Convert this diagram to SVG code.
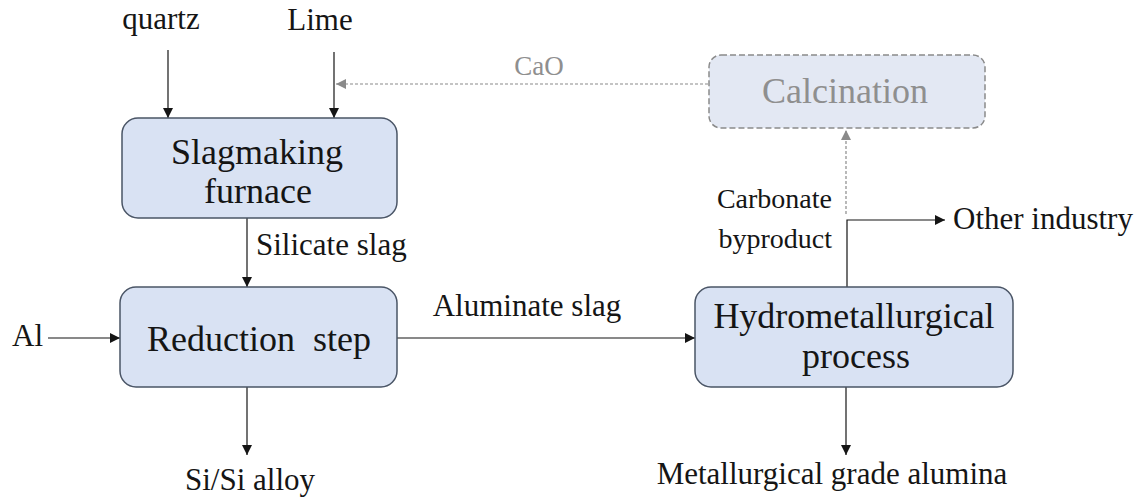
<svg xmlns="http://www.w3.org/2000/svg" width="1141" height="500" viewBox="0 0 1141 500">
<defs>
<style>
.box{fill:#d9e2f3;stroke:#4a5566;stroke-width:1.5}
.dbox{fill:#e3e8f3;stroke:#8a8a8a;stroke-width:1.5;stroke-dasharray:6 3}
.t{font-family:"Liberation Serif","Times New Roman",serif;fill:#151515}
.n{font-size:36px;text-anchor:middle}
.l{font-size:31px}
.g{fill:#8f8f8f}
.c{stroke:#151515;stroke-width:1.2;fill:none}
.d{stroke:#8a8a8a;stroke-width:1.2;fill:none;stroke-dasharray:3 2}
</style>
<marker id="a" viewBox="0 0 10 10" refX="10" refY="5" markerWidth="11" markerHeight="10" markerUnits="userSpaceOnUse" orient="auto"><path d="M0,0 L10,5 L0,10 z" fill="#151515"/></marker>
<marker id="ag" viewBox="0 0 10 10" refX="10" refY="5" markerWidth="11" markerHeight="10" markerUnits="userSpaceOnUse" orient="auto"><path d="M0,0 L10,5 L0,10 z" fill="#8a8a8a"/></marker>
</defs>
<rect width="1141" height="500" fill="#fff"/>
<g id="connectors">
<path class="c" d="M168,50 V118" marker-end="url(#a)"/>
<path class="c" d="M334,52 V118" marker-end="url(#a)"/>
<path class="d" d="M708,84 H336" marker-end="url(#ag)"/>
<path class="c" d="M247,218 V287" marker-end="url(#a)"/>
<path class="c" d="M48,338 H120" marker-end="url(#a)"/>
<path class="c" d="M397,338 H695" marker-end="url(#a)"/>
<path class="c" d="M247,387 V455" marker-end="url(#a)"/>
<path class="c" d="M846,387 V455" marker-end="url(#a)"/>
<path class="c" d="M847,287 V220 H945" marker-end="url(#a)"/>
<path class="d" d="M846,214 V130" marker-end="url(#ag)"/>
<text class="t g" x="539" y="75" text-anchor="middle" font-size="27">CaO</text>
<text class="t l" x="256" y="255" font-size="32">Silicate slag</text>
<text class="t l" x="527" y="316" text-anchor="middle" font-size="29">Aluminate slag</text>
<text class="t" x="832" y="208" text-anchor="end" font-size="28">Carbonate</text>
<text class="t" x="832" y="248" text-anchor="end" font-size="28">byproduct</text>
</g>
<g id="quartz"><text class="t l" x="161" y="29" text-anchor="middle">quartz</text></g>
<g id="lime"><text class="t l" x="320" y="30" text-anchor="middle">Lime</text></g>
<g id="al"><text class="t l" x="12" y="346">Al</text></g>
<g id="slagmaking">
<rect class="box" x="122" y="118" width="275" height="100" rx="16"/>
<text class="t n" x="257" y="164" font-size="34">Slagmaking</text>
<text class="t n" x="258" y="203" font-size="34">furnace</text>
</g>
<g id="reduction">
<rect class="box" x="120" y="287" width="277" height="100" rx="16"/>
<text class="t n" x="259" y="351" xml:space="preserve">Reduction  step</text>
</g>
<g id="hydro">
<rect class="box" x="695" y="287" width="318" height="100" rx="16"/>
<text class="t n" x="854" y="328">Hydrometallurgical</text>
<text class="t n" x="856" y="368">process</text>
</g>
<g id="calcination">
<rect class="dbox" x="709" y="55" width="276" height="73" rx="12"/>
<text class="t n g" x="845" y="103">Calcination</text>
</g>
<g id="silicon"><text class="t l" x="250" y="490" text-anchor="middle">Si/Si alloy</text></g>
<g id="alumina"><text class="t l" x="832" y="484" text-anchor="middle">Metallurgical grade alumina</text></g>
<g id="other"><text class="t l" x="953" y="229">Other industry</text></g>
</svg>
